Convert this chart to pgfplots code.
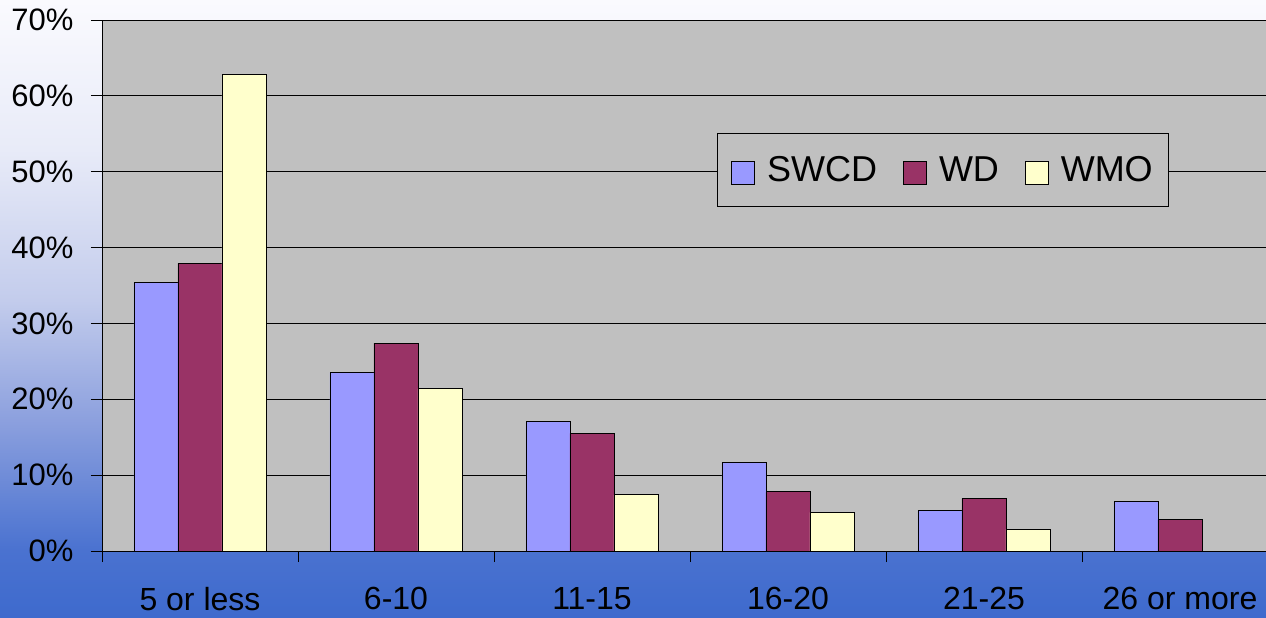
\documentclass[border=0pt]{standalone}
\usepackage{fontspec}
\setmainfont{Liberation Sans}
\usepackage{pgfplots}
\pgfplotsset{compat=1.18}
\definecolor{swcd}{RGB}{153,153,255}
\definecolor{wd}{RGB}{153,51,102}
\definecolor{wmo}{RGB}{255,255,204}
\definecolor{plotgray}{RGB}{192,192,192}
\pgfdeclareverticalshading{bgshade}{100bp}{%
 color(0bp)=(rgb,255:red,62;green,106;blue,205);
 color(25bp)=(rgb,255:red,62;green,106;blue,205);
 color(30.5bp)=(rgb,255:red,74;green,114;blue,208);
 color(41bp)=(rgb,255:red,140;green,160;blue,222);
 color(50.7bp)=(rgb,255:red,195;green,204;blue,236);
 color(62.9bp)=(rgb,255:red,232;green,235;blue,248);
 color(75bp)=(rgb,255:red,250;green,250;blue,254);
 color(100bp)=(rgb,255:red,250;green,250;blue,254)}
\pgfplotstableread{
x swcd wd wmo
0 35.4 37.9 62.8
1 23.5 27.4 21.4
2 17.1 15.5 7.4
3 11.7 7.8 5.1
4 5.3 6.9 2.9
5 6.5 4.1 0
}\datatable
\begin{document}
\begin{tikzpicture}
\shade[shading=bgshade] (0bp,0bp) rectangle (1266bp,618bp);
\begin{axis}[
  at={(102bp,67bp)}, anchor=south west,
  width=1176bp, height=531bp, scale only axis,
  xmin=-0.5, xmax=5.5, ymin=0, ymax=70,
  axis background/.style={fill=plotgray},
  separate axis lines,
  axis x line*=bottom, axis y line*=left,
  axis line style={black, line width=0.8bp},
  ybar=0pt, bar width=44bp,
  xtick={0,...,5},
  xticklabels={5 or less,6-10,11-15,16-20,21-25,26 or more},
  x tick style={draw=none},
  extra x ticks={-0.5,0.5,1.5,2.5,3.5,4.5},
  extra x tick labels={},
  extra x tick style={x tick style={draw=black, line width=0.8bp}, major tick length=11bp, tick align=outside},
  xticklabel style={font=\fontsize{32bp}{36bp}\selectfont, yshift=-22bp},
  ytick={0,10,...,70},
  yticklabels={0\%,10\%,20\%,30\%,40\%,50\%,60\%,70\%},
  yticklabel style={font=\fontsize{31bp}{36bp}\selectfont, xshift=-14bp},
  y tick style={black, line width=0.8bp},
  major tick length=11bp, tick align=outside,
  ymajorgrids, grid style={black, line width=0.8bp},
  legend columns=3,
  legend style={at={(axis cs:2.638,55.07)}, anchor=north west,
    fill=plotgray, draw=black, line width=0.8bp,
    font=\fontsize{36bp}{40bp}\selectfont,
    inner xsep=14bp, inner ysep=21bp,
    /tikz/every odd column/.append style={column sep=10bp},
    /tikz/every even column/.append style={column sep=24bp}},
  legend image code/.code={\draw[#1,draw=black,line width=0.8bp] (0bp,-14bp) rectangle (23bp,9bp);},
]
\addplot[fill=swcd, draw=black, line width=0.8bp] table[x=x,y=swcd]{\datatable};
\addplot[fill=wd, draw=black, line width=0.8bp] table[x=x,y=wd]{\datatable};
\addplot[fill=wmo, draw=black, line width=0.8bp] table[x=x,y=wmo]{\datatable};
\legend{SWCD,WD,WMO}
\end{axis}
\pgfresetboundingbox
\useasboundingbox (0bp,0bp) rectangle (1266bp,618bp);
\end{tikzpicture}
\end{document}
